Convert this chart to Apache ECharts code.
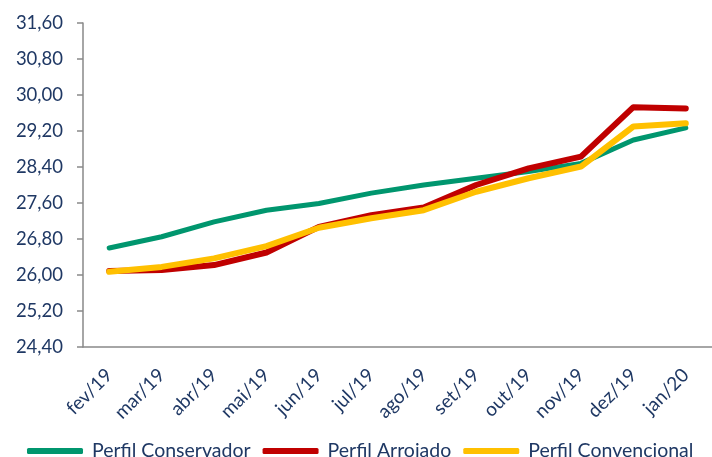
<!DOCTYPE html>
<html>
<head>
<meta charset="utf-8">
<script src="https://cdn.jsdelivr.net/npm/echarts@6/dist/echarts.min.js"></script>
<style>
html, body { margin: 0; padding: 0; background: #fff; }
#chart { width: 712px; height: 457px; }
</style>
</head>
<body>
<div id="chart"></div>
<script>
var months = ['fev/19', 'mar/19', 'abr/19', 'mai/19', 'jun/19', 'jul/19',
	'ago/19', 'set/19', 'out/19', 'nov/19', 'dez/19', 'jan/20'];
var conservador = [26.60, 26.85, 27.18, 27.44, 27.59, 27.82, 28.00, 28.15, 28.30, 28.48, 29.00, 29.27];
var arrojado = [26.09, 26.11, 26.22, 26.50, 27.07, 27.33, 27.50, 28.00, 28.37, 28.63, 29.73, 29.70];
var convencional = [26.07, 26.18, 26.37, 26.64, 27.05, 27.26, 27.44, 27.85, 28.15, 28.41, 29.30, 29.37];
var yTicks = [24.4, 25.2, 26.0, 26.8, 27.6, 28.4, 29.2, 30.0, 30.8, 31.6];

var textColor = '#1f3864';
var font = 'Lato';

var chart = echarts.init(document.getElementById('chart'));

function serie(name, data, color, width){
	return {
		name: name,
		type: 'line',
		data: data,
		symbol: 'none',
		color: color,
		lineStyle: { color: color, width: width, cap: 'round', join: 'round' }
	};
}

var option = {
	animation: false,
	grid: { left: 83, top: 23, width: 636, height: 324 },
	legend: {
		left: 22,
		top: 436,
		itemWidth: 56,
		itemHeight: 6,
		itemGap: 12,
		icon: 'roundRect',
		textStyle: { color: textColor, fontSize: 19.5, fontFamily: font, padding: [0, 0, 0, 4] },
		data: ['Perfil Conservador', 'Perfil Arrojado', 'Perfil Convencional']
	},
	xAxis: {
		type: 'category',
		data: months,
		boundaryGap: true,
		axisLine: { lineStyle: { color: '#898989', width: 1.5 } },
		axisTick: { length: 6, lineStyle: { color: '#898989', width: 1.5 } },
		axisLabel: {
			rotate: 45,
			margin: 25,
			color: textColor,
			fontSize: 19,
			fontFamily: font
		}
	},
	yAxis: {
		type: 'value',
		min: 24.4,
		max: 31.6,
		splitLine: { show: false },
		axisLine: { show: true, lineStyle: { color: '#898989', width: 1.5 } },
		axisTick: { show: true, length: 6, customValues: yTicks, lineStyle: { color: '#898989', width: 1.5 } },
		axisLabel: {
			customValues: yTicks,
			margin: 20,
			color: textColor,
			fontSize: 18.5,
			fontFamily: font,
			formatter: function(v){ return v.toFixed(2).replace('.', ','); }
		}
	},
	series: [
		serie('Perfil Conservador', conservador, '#00966e', 5),
		serie('Perfil Arrojado', arrojado, '#c00000', 6),
		serie('Perfil Convencional', convencional, '#ffc000', 6)
	]
};
chart.setOption(option);
</script>
</body>
</html>
